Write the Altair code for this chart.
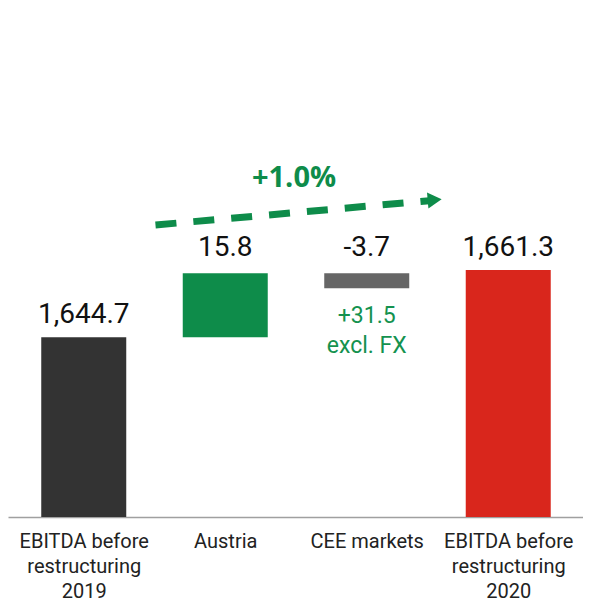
import json
import altair as alt
import pandas as pd

# ---- data ----
categories = ["EBITDA before\nrestructuring\n2019", "Austria", "CEE markets",
              "EBITDA before\nrestructuring\n2020"]
values = [1644.7, 15.8, -3.7, 1661.3]
kinds = ["total", "delta", "delta", "total"]
value_labels = ["1,644.7", "15.8", "-3.7", "1,661.3"]
bar_colors = ["#333333", "#0E8C4A", "#666666", "#D9261C"]

axis_base = 1600.37    # value at the (broken) baseline
axis_top = 1703.23

growth_label = "+1.0%"
growth_pos = [1.486, 1683.9]
cee_note = "+31.5\nexcl. FX"
arrow_x = [0.507, 2.444]
arrow_y = [1672.4, 1678.4]
arrow_head = [2.48, 1678.6]

GREEN = "#0E8C4A"

# ---- build table ----
rows = []
running = 0.0
for i, (c, v, k, lab, col) in enumerate(zip(categories, values, kinds, value_labels, bar_colors)):
    if k == "total":
        start, end = axis_base, v
        running = v
    else:
        start, end = running, running + v
        running = end
    rows.append(dict(idx=i, pos=i, kind=k, start=start, end=end, top=max(start, end),
                     bottom=min(start, end), label=lab, color=col))
df = pd.DataFrame(rows)

xscale = alt.Scale(domain=[-0.5, 3.493], nice=False, zero=False)
yscale = alt.Scale(domain=[axis_base, axis_top], nice=False, zero=False)

label_expr = "split(" + json.dumps(categories) + "[datum.value], '\\n')"
xaxis = alt.Axis(values=[0, 1, 2, 3], labelExpr=label_expr, title=None, ticks=False,
                 grid=False, domainColor="#a0a0a0", domainWidth=1.5,
                 labelFontSize=20, labelLineHeight=25, labelPadding=14,
                 labelColor="#222222", labelFont="Roboto", labelFlush=False,
                 labelOverlap=False)

base = alt.Chart(df)

bars = base.mark_bar(size=85).encode(
    x=alt.X("pos:Q", scale=xscale, axis=xaxis),
    y=alt.Y("start:Q", scale=yscale, axis=None),
    y2="end:Q",
    color=alt.Color("color:N", scale=None),
)

labels_total = base.transform_filter("datum.kind == 'total'").mark_text(
    fontSize=28, font="Roboto", color="#111111", baseline="alphabetic", dy=-14
).encode(x=alt.X("pos:Q", scale=xscale), y=alt.Y("top:Q", scale=yscale), text="label:N")

labels_delta = base.transform_filter("datum.kind == 'delta'").mark_text(
    fontSize=28, font="Roboto", color="#111111", baseline="alphabetic", dy=-17
).encode(x=alt.X("pos:Q", scale=xscale), y=alt.Y("top:Q", scale=yscale), text="label:N")

note = base.transform_filter("datum.idx == 2").transform_calculate(
    note=json.dumps(cee_note)
).mark_text(
    fontSize=23, font="Roboto", color="#14924F", baseline="top", dy=17,
    lineBreak="\n", lineHeight=29.5
).encode(x=alt.X("pos:Q", scale=xscale), y=alt.Y("bottom:Q", scale=yscale), text="note:N")

arrow_df = pd.DataFrame({"x": [arrow_x[0]], "x2": [arrow_x[1]], "y": [arrow_y[0]], "y2": [arrow_y[1]]})
arrow = alt.Chart(arrow_df).mark_rule(strokeDash=[21, 17], strokeWidth=7, color=GREEN,
                                      strokeCap="butt").encode(
    x=alt.X("x:Q", scale=xscale), x2="x2:Q",
    y=alt.Y("y:Q", scale=yscale), y2="y2:Q",
)

head_df = pd.DataFrame({"x": [arrow_head[0]], "y": [arrow_head[1]]})
head = alt.Chart(head_df).mark_point(shape="triangle-right", filled=True, size=260,
                                     angle=355, color=GREEN, opacity=1).encode(
    x=alt.X("x:Q", scale=xscale), y=alt.Y("y:Q", scale=yscale),
)

g_df = pd.DataFrame({"x": [growth_pos[0]], "y": [growth_pos[1]], "t": [growth_label]})
growth = alt.Chart(g_df).mark_text(fontSize=29, fontWeight="bold", font="Open Sans",
                                   color=GREEN, baseline="middle").encode(
    x=alt.X("x:Q", scale=xscale), y=alt.Y("y:Q", scale=yscale), text="t:N",
)

chart = alt.layer(bars, labels_total, labels_delta, note, arrow, head, growth).properties(
    width=575, height=417,
    padding={"left": 0, "top": 92, "right": 0, "bottom": 84},
    autosize=alt.AutoSizeParams(type="none"),
    background="white",
).configure_view(stroke=None)

chart.save("out.html", embed_options={"renderer": "svg", "actions": False})
